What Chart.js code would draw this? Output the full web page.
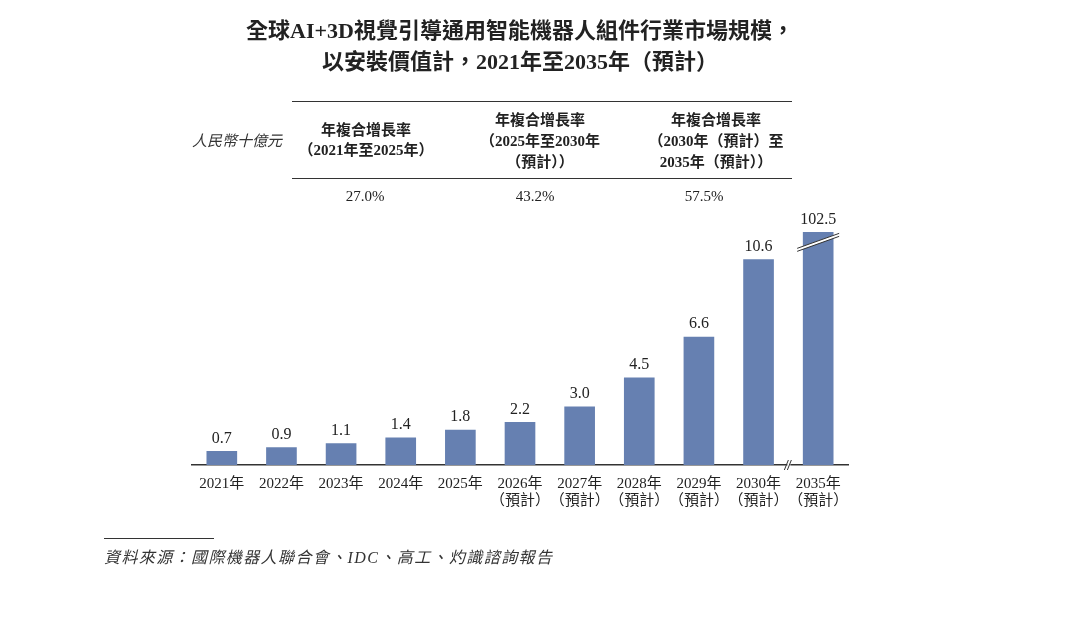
<!DOCTYPE html>
<html>
<head>
<meta charset="utf-8">
<script src="https://cdn.jsdelivr.net/npm/chart.js@4.4.0/dist/chart.umd.min.js"></script>
<style>
  body { margin: 0; background: #fff; }
  #wrap { position: relative; width: 1080px; height: 624px; overflow: hidden; }
  #chart { position: absolute; left: 0; top: 0; }
  .t { position: absolute; transform: translate(-50%, -50%); white-space: nowrap; color: #222;
       font-family: 'Liberation Serif', 'Noto Sans CJK TC', serif; }
  .hd { font-size: 15px; font-weight: bold; }
  .val { font-size: 15px; }
  .rule { position: absolute; height: 0; border-top: 1px solid #333; }
  .it { font-style: italic; color: #333; }
</style>
</head>
<body>
<div id="wrap">
  <canvas id="chart" width="1080" height="624"></canvas>
</div>
<script>
const titleLines = ['全球AI+3D視覺引導通用智能機器人組件行業市場規模，', '以安裝價值計，2021年至2035年（預計）'];
const years = ['2021年', '2022年', '2023年', '2024年', '2025年', '2026年', '2027年', '2028年', '2029年', '2030年', '2035年'];
const forecastFlags = [false, false, false, false, false, true, true, true, true, true, true];
const marketSize = [0.7, 0.9, 1.1, 1.4, 1.8, 2.2, 3.0, 4.5, 6.6, 10.6, 102.5];
const brokenBarCap = 12.0;   // 2035 bar is drawn cut off at this height
const unitLabel = '人民幣十億元';
const cagrHeaders = [
  ['年複合增長率', '（2021年至2025年）'],
  ['年複合增長率', '（2025年至2030年', '（預計））'],
  ['年複合增長率', '（2030年（預計）至', '2035年（預計））']
];
const cagrValues = ['27.0%', '43.2%', '57.5%'];
const sourceText = '資料來源：國際機器人聯合會、IDC、高工、灼識諮詢報告';

const FONT = "'Liberation Serif', 'Noto Sans CJK TC', serif";
const BAR_COLOR = '#6680b1';

// header table + source note as html
(function () {
  const wrap = document.getElementById('wrap');

  function addText(txt, x, y, cls) {
    const d = document.createElement('div');
    d.className = 't ' + cls;
    d.style.left = x + 'px';
    d.style.top = y + 'px';
    d.textContent = txt;
    wrap.appendChild(d);
    return d;
  }
  function addRule(x, y, w) {
    const r = document.createElement('div');
    r.className = 'rule';
    r.style.left = x + 'px';
    r.style.top = y + 'px';
    r.style.width = w + 'px';
    wrap.appendChild(r);
  }

  addRule(292, 101, 500);
  addRule(292, 178, 500);

  const colX = [366, 540, 716];
  const valX = [365, 535, 704];
  cagrHeaders.forEach((lines, i) => {
    const startY = lines.length === 2 ? 128 : 118;
    const step = lines.length === 2 ? 20 : 21;
    lines.forEach((ln, j) => addText(ln, colX[i], startY + j * step, 'hd'));
  });
  cagrValues.forEach((v, i) => addText(v, valX[i], 196, 'val'));

  const u = addText(unitLabel, 237, 139, 'it');
  u.style.fontSize = '15px';

  addRule(104, 538, 110);
  const s = addText(sourceText, 104, 556, 'it');
  s.style.transform = 'translate(0, -50%)';
  s.style.fontSize = '16px';
  s.style.letterSpacing = '1.4px';
})();

const barLabels = {
  id: 'barLabels',
  afterDatasetsDraw(chart) {
    const ctx = chart.ctx;
    const meta = chart.getDatasetMeta(0);
    ctx.save();
    ctx.font = '16px ' + FONT;
    ctx.fillStyle = '#222';
    ctx.textAlign = 'center';
    ctx.textBaseline = 'bottom';
    meta.data.forEach((bar, i) => {
      ctx.fillText(marketSize[i].toFixed(1), bar.x, bar.y - 5);
    });
    ctx.restore();
  }
};

const breakMarks = {
  id: 'breakMarks',
  afterDatasetsDraw(chart) {
    const ctx = chart.ctx;
    const meta = chart.getDatasetMeta(0);
    const xScale = chart.scales.x;
    const base = chart.chartArea.bottom;
    ctx.save();
    ctx.strokeStyle = '#333';
    ctx.lineWidth = 1;

    // cut mark across the capped bar
    meta.data.forEach((bar, i) => {
      if (marketSize[i] <= brokenBarCap) return;
      const x0 = bar.x - 21, x1 = bar.x + 21;
      const y0 = bar.y + 16, y1 = bar.y + 1;
      ctx.fillStyle = '#fff';
      ctx.beginPath();
      ctx.moveTo(x0, y0);
      ctx.lineTo(x1, y1);
      ctx.lineTo(x1, y1 + 3);
      ctx.lineTo(x0, y0 + 3);
      ctx.closePath();
      ctx.fill();
      ctx.beginPath();
      ctx.moveTo(x0, y0); ctx.lineTo(x1, y1);
      ctx.moveTo(x0, y0 + 3); ctx.lineTo(x1, y1 + 3);
      ctx.stroke();

      // axis break between this bar and the previous one
      const xm = (xScale.getPixelForValue(i - 1) + xScale.getPixelForValue(i)) / 2;
      ctx.fillStyle = '#fff';
      ctx.fillRect(xm - 1, base - 2, 3, 4);
      ctx.beginPath();
      ctx.moveTo(xm - 4, base + 5); ctx.lineTo(xm, base - 5);
      ctx.moveTo(xm - 1, base + 5); ctx.lineTo(xm + 3, base - 5);
      ctx.stroke();
    });
    ctx.restore();
  }
};

const ctx = document.getElementById('chart').getContext('2d');
new Chart(ctx, {
  type: 'bar',
  data: {
    labels: years.map((y, i) => forecastFlags[i] ? [y, '（預計）'] : y),
    datasets: [{
      data: marketSize.map(v => Math.min(v, brokenBarCap)),
      backgroundColor: BAR_COLOR,
      barThickness: 30,
      borderWidth: 0
    }]
  },
  options: {
    responsive: false,
    animation: false,
    devicePixelRatio: 1,
    layout: { padding: { top: 0, left: 192, right: 232, bottom: 99 } },
    scales: {
      x: {
        grid: { display: false, drawTicks: false },
        border: { display: true, color: '#333', width: 1.5 },
        ticks: {
          color: '#222',
          padding: 11,
          maxRotation: 0,
          autoSkip: false,
          font: { family: FONT, size: 15, lineHeight: 1.1 }
        },
        afterFit(scale) { scale.height = 60; }
      },
      y: {
        display: false,
        min: 0,
        max: 12.5
      }
    },
    plugins: {
      legend: { display: false },
      tooltip: { enabled: false },
      title: {
        display: true,
        text: titleLines,
        color: '#222',
        font: { family: FONT, size: 22, weight: 'bold', lineHeight: 1.44 },
        padding: { top: 16, bottom: 143.3 }
      }
    }
  },
  plugins: [barLabels, breakMarks]
});
</script>
</body>
</html>
